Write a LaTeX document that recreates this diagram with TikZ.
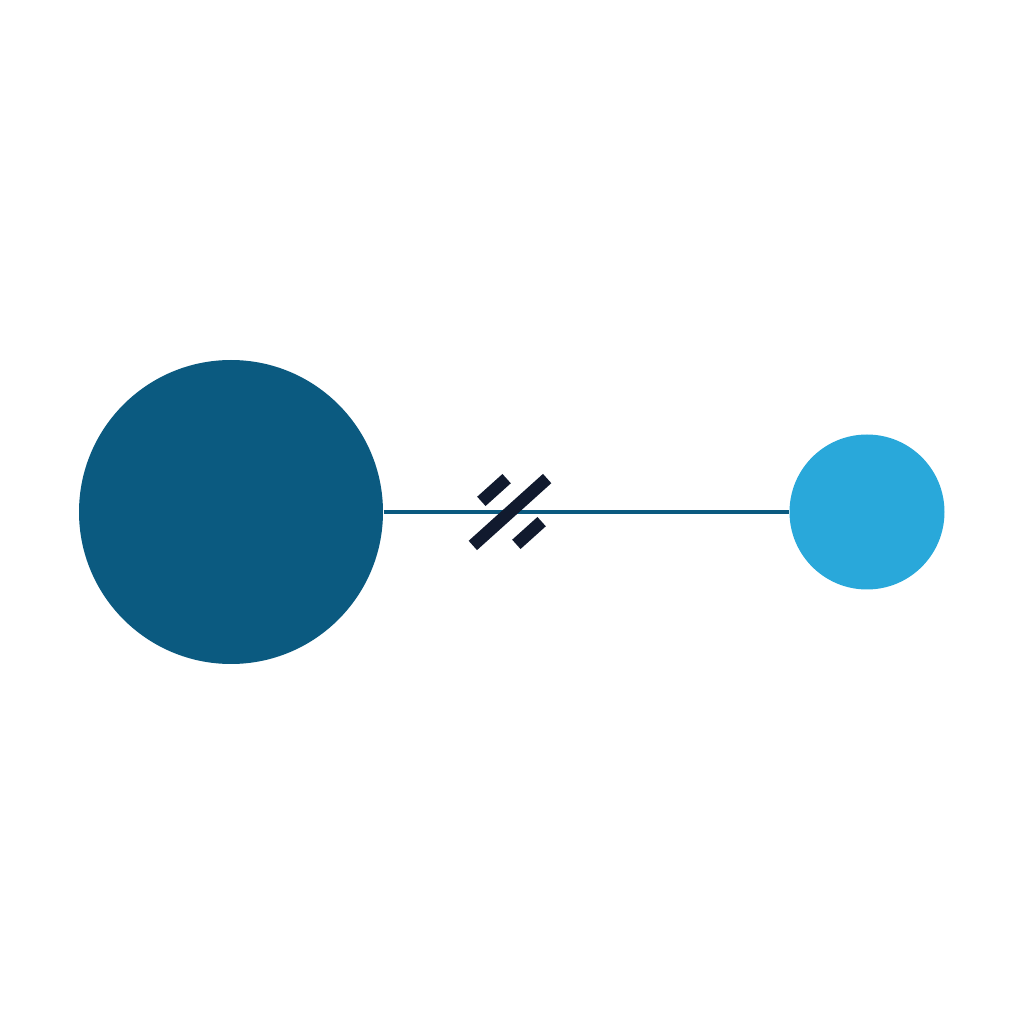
\documentclass[tikz,border=0pt]{standalone}
\usetikzlibrary{calc}

\definecolor{darkblue}{HTML}{0B5A80}
\definecolor{lightblue}{HTML}{29A8DA}
\definecolor{navy}{HTML}{111A2E}

\begin{document}
\begin{tikzpicture}[scale=1.0,
	ball/.style={circle, inner sep=0pt, draw=none},
	bar/.style={navy, line width=0.125cm, line cap=butt}]

	\useasboundingbox (0,0) rectangle (10.24,10.24);

	% bodies
	\node[ball, fill=darkblue, minimum size=3.04cm] (big) at (2.31,5.12) {};
	\node[ball, fill=lightblue, minimum size=1.55cm] (small) at (8.67,5.12) {};

	% link
	\draw[darkblue, line width=1.2pt] (big) -- (small);

	% break mark
	\coordinate (M) at (5.10,5.12);
	\coordinate (T) at ($(M)+(-0.16,0.22)$);
	\coordinate (U) at ($(M)+(0.19,-0.21)$);

	\draw[bar] ($(M)+(222:0.50)$) -- ($(M)+(42:0.50)$);
	\draw[bar] ($(T)+(222:0.17)$) -- ($(T)+(42:0.17)$);
	\draw[bar] ($(U)+(222:0.17)$) -- ($(U)+(42:0.17)$);

\end{tikzpicture}
\end{document}
